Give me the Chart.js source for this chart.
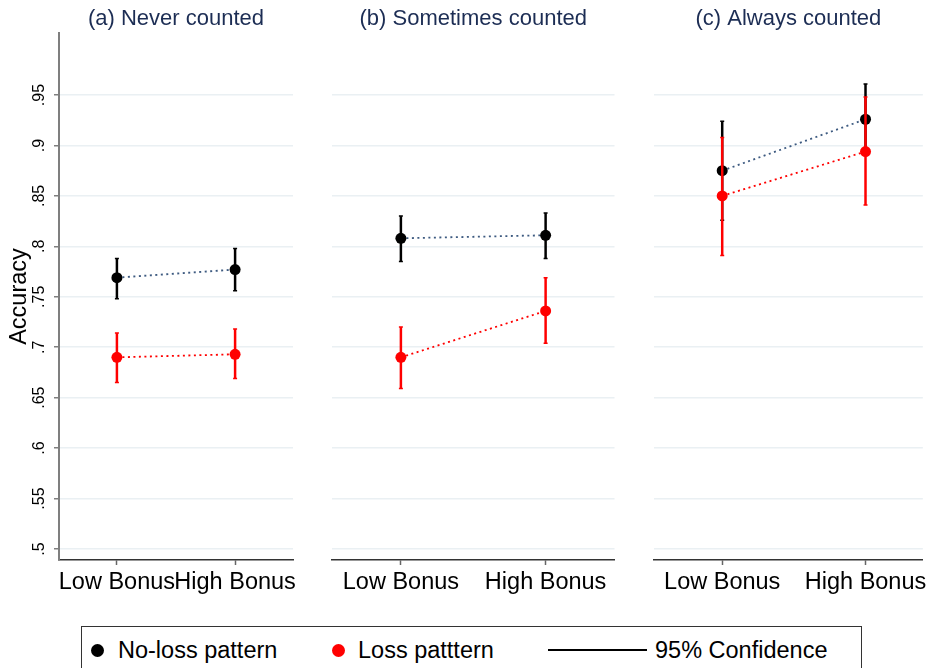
<!DOCTYPE html>
<html>
<head>
<meta charset="utf-8">
<script src="https://cdn.jsdelivr.net/npm/chart.js@4.4.1/dist/chart.umd.min.js"></script>
<style>
  body { margin: 0; background: #fff; overflow: hidden; width: 931px; height: 668px; position: relative; }
  canvas { position: absolute; top: 0; }
  #legend { position: absolute; left: 81px; top: 626px; width: 779px; height: 70px; border: 1.5px solid #333; font: 23.5px 'Liberation Sans', Arial, sans-serif; color: #000; }
  #legend span { position: absolute; top: 10px; white-space: nowrap; }
  #legend .dot { position: absolute; top: 17px; width: 13px; height: 13px; border-radius: 50%; }
  #legend .line { position: absolute; top: 22px; width: 99px; height: 2px; background: #000; }
</style>
</head>
<body>
<canvas id="panelA" width="310" height="600" style="left:0"></canvas>
<canvas id="panelB" width="310" height="600" style="left:310px"></canvas>
<canvas id="panelC" width="311" height="600" style="left:620px"></canvas>
<div id="legend">
  <div class="dot" style="left:9px;background:#000"></div><span style="left:36px">No-loss pattern</span>
  <div class="dot" style="left:250px;background:#f00"></div><span style="left:276px">Loss patttern</span>
  <div class="line" style="left:466px"></div><span style="left:573px">95% Confidence</span>
</div>
<script>
// Data
const categories = ['Low Bonus', 'High Bonus'];
const panelTitles = ['(a) Never counted', '(b) Sometimes counted', '(c) Always counted'];
const yTicks = [0.5, 0.55, 0.6, 0.65, 0.7, 0.75, 0.8, 0.85, 0.9, 0.95];
const yTickLabels = ['.5', '.55', '.6', '.65', '.7', '.75', '.8', '.85', '.9', '.95'];

const noLossMean = [[0.769, 0.777], [0.808, 0.811], [0.875, 0.926]];
const noLossLow  = [[0.748, 0.756], [0.785, 0.788], [0.826, 0.892]];
const noLossHigh = [[0.788, 0.798], [0.830, 0.833], [0.924, 0.961]];

const lossMean = [[0.690, 0.693], [0.690, 0.736], [0.850, 0.894]];
const lossLow  = [[0.665, 0.669], [0.659, 0.704], [0.791, 0.841]];
const lossHigh = [[0.714, 0.718], [0.720, 0.769], [0.908, 0.948]];

Chart.defaults.font.family = "'Liberation Sans', Arial, sans-serif";
Chart.defaults.color = '#000';

// Confidence intervals drawn just before each series
const errorBars = {
    id: 'errorBars',
    beforeDatasetDraw(chart, args) {
        const ds = chart.data.datasets[args.index];
        const xs = chart.scales.x, ys = chart.scales.y;
        const ctx = chart.ctx;
        ctx.save();
        ctx.strokeStyle = ds.ciColor;
        ds.lows.forEach((lo, i) => {
            const px = xs.getPixelForValue(i);
            const y0 = ys.getPixelForValue(lo);
            const y1 = ys.getPixelForValue(ds.highs[i]);
            ctx.lineWidth = 2.5;
            ctx.beginPath();
            ctx.moveTo(px, y0);
            ctx.lineTo(px, y1);
            ctx.stroke();
            ctx.lineWidth = 1.5;
            ctx.beginPath();
            ctx.moveTo(px - 2, y0); ctx.lineTo(px + 2, y0);
            ctx.moveTo(px - 2, y1); ctx.lineTo(px + 2, y1);
            ctx.stroke();
        });
        ctx.restore();
    }
};

// Rotated y tick labels (left panel only)
const rotatedYLabels = {
    id: 'rotatedYLabels',
    afterDraw(chart, args, opts) {
        if (!opts.show) return;
        const ys = chart.scales.y;
        const ctx = chart.ctx;
        ctx.save();
        ctx.font = "16px 'Liberation Sans', Arial, sans-serif";
        ctx.fillStyle = '#000';
        ctx.textAlign = 'center';
        ctx.textBaseline = 'middle';
        yTicks.forEach((v, i) => {
            ctx.save();
            ctx.translate(40, ys.getPixelForValue(v));
            ctx.rotate(-Math.PI / 2);
            ctx.fillText(yTickLabels[i], 0, 0);
            ctx.restore();
        });
        ctx.restore();
    }
};

function makePanel(id, p, cfg) {
    const first = p === 0;
    new Chart(document.getElementById(id), {
        type: 'scatter',
        data: {
            datasets: [{
                data: noLossMean[p].map((v, i) => ({ x: i, y: v })),
                lows: noLossLow[p], highs: noLossHigh[p], ciColor: '#000',
                showLine: true, borderColor: '#3d5a80', borderWidth: 1.8, borderDash: [2, 3.5],
                pointRadius: 5.5, pointBackgroundColor: '#000', pointBorderWidth: 0, order: 2
            }, {
                data: lossMean[p].map((v, i) => ({ x: i, y: v })),
                lows: lossLow[p], highs: lossHigh[p], ciColor: '#f00',
                showLine: true, borderColor: '#f00', borderWidth: 1.8, borderDash: [2, 3.5],
                pointRadius: 5.5, pointBackgroundColor: '#f00', pointBorderWidth: 0, order: 1
            }]
        },
        options: {
            responsive: false,
            animation: false,
            events: [],
            layout: { padding: { left: cfg.padLeft, right: cfg.padRight, top: 0, bottom: 0 } },
            plugins: {
                legend: { display: false },
                tooltip: { enabled: false },
                title: {
                    display: true, text: panelTitles[p], fullSize: false,
                    color: '#1c2d54', font: { size: 22, weight: 'normal', lineHeight: 1.2 },
                    padding: { top: 5.5, bottom: 1.1 }
                },
                rotatedYLabels: { show: first }
            },
            scales: {
                x: {
                    type: 'linear', min: cfg.xMin, max: cfg.xMax,
                    afterBuildTicks: s => { s.ticks = [{ value: 0 }, { value: 1 }]; },
                    afterFit: s => { s.height = 40; },
                    ticks: {
                        callback: v => categories[v], autoSkip: false, maxRotation: 0,
                        font: { size: 23.5 }, color: '#000', padding: 3
                    },
                    grid: { drawOnChartArea: false, drawTicks: true, tickLength: 5, tickColor: '#666', tickWidth: 1.5 },
                    border: { display: true, color: '#333', width: 1.5 }
                },
                y: {
                    min: 0.4891, max: 1.0115,
                    afterBuildTicks: s => { s.ticks = yTicks.map(v => ({ value: v })); },
                    afterFit: s => { s.width = first ? 59 : 0; },
                    ticks: { display: false },
                    title: first ? { display: true, text: 'Accuracy', font: { size: 23.5 }, color: '#000', padding: { top: 5, bottom: 0 } } : { display: false },
                    grid: { color: '#eaf0f3', lineWidth: 1.5, drawTicks: first, tickLength: 5, tickColor: '#7f7f7f', tickWidth: 1.5 },
                    border: { display: first, color: '#7f7f7f', width: 2 }
                }
            }
        },
        plugins: [errorBars, rotatedYLabels]
    });
}

makePanel('panelA', 0, { padLeft: 0, padRight: 17, xMin: -0.49, xMax: 1.49 });
makePanel('panelB', 1, { padLeft: 22, padRight: 5, xMin: -0.476, xMax: 1.476 });
makePanel('panelC', 2, { padLeft: 34, padRight: 0, xMin: -0.476, xMax: 1.40 });
</script>
</body>
</html>
